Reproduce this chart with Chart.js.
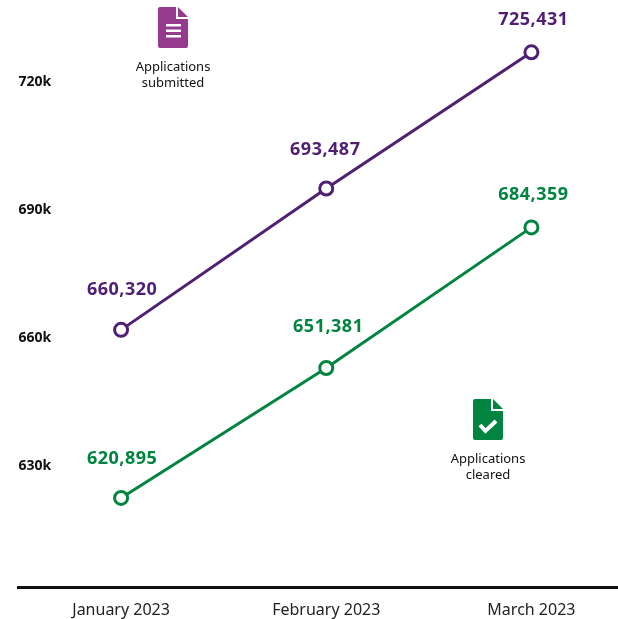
<!DOCTYPE html>
<html>
<head>
<meta charset="utf-8">
<style>
  html, body { margin: 0; padding: 0; background: #fff; overflow: hidden; }
  canvas { display: block; }
</style>
<script src="https://cdn.jsdelivr.net/npm/chart.js@4"></script>
</head>
<body>
<!-- canvas runs past the window on the right: the axis line bleeds off the edge in the original -->
<canvas id="chart" width="634" height="619"></canvas>
<script>
const months = ['January 2023', 'February 2023', 'March 2023'];
const submitted = [660320, 693487, 725431];
const cleared = [620895, 651381, 684359];
const yTicks = [630000, 660000, 690000, 720000];

const PURPLE = '#4f1f72';
const GREEN = '#00843f';
const FONT = '"Noto Sans", sans-serif';

// icon = page with a folded corner
function drawPage(ctx, x, y, w, h, color) {
    const fold = 10;
    ctx.fillStyle = color;
    ctx.beginPath();
    ctx.moveTo(x + 2, y);
    ctx.lineTo(x + w - fold - 2, y);
    ctx.lineTo(x + w - fold - 2, y + fold + 2);
    ctx.lineTo(x + w, y + fold + 2);
    ctx.lineTo(x + w, y + h - 2);
    ctx.quadraticCurveTo(x + w, y + h, x + w - 2, y + h);
    ctx.lineTo(x + 2, y + h);
    ctx.quadraticCurveTo(x, y + h, x, y + h - 2);
    ctx.lineTo(x, y + 2);
    ctx.quadraticCurveTo(x, y, x + 2, y);
    ctx.fill();
    ctx.beginPath();
    ctx.moveTo(x + w - fold, y);
    ctx.lineTo(x + w, y + fold);
    ctx.lineTo(x + w - fold, y + fold);
    ctx.closePath();
    ctx.fill();
}

const annotations = {
    id: 'annotations',
    afterDatasetsDraw(chart) {
        const { ctx, scales } = chart;
        ctx.save();
        ctx.textAlign = 'center';
        ctx.textBaseline = 'middle';

        // value labels above the points
        const labelLift = [[40, 39, 32], [39, 41, 33]];
        const labelShift = [[1, -1, 2], [1, 2, 2]];
        [submitted, cleared].forEach((values, s) => {
            ctx.fillStyle = s === 0 ? PURPLE : GREEN;
            ctx.font = 'bold 18px ' + FONT;
            ctx.letterSpacing = '0.5px';
            values.forEach((v, i) => {
                ctx.fillText(v.toLocaleString('en-US'), scales.x.getPixelForValue(i) + labelShift[s][i],
                    scales.y.getPixelForValue(v) - labelLift[s][i]);
            });
        });
        ctx.letterSpacing = '0px';

        // submitted icon
        drawPage(ctx, 158, 7, 30, 41, '#963a8e');
        ctx.fillStyle = '#fff';
        [24, 29.5, 35].forEach(y => ctx.fillRect(166, y, 15, 2.5));

        // cleared icon
        drawPage(ctx, 473, 399, 30, 41, GREEN);
        ctx.strokeStyle = '#fff';
        ctx.lineWidth = 4;
        ctx.beginPath();
        ctx.moveTo(480, 425);
        ctx.lineTo(485.5, 431);
        ctx.lineTo(496, 421);
        ctx.stroke();

        ctx.fillStyle = '#111';
        ctx.font = '13px ' + FONT;
        ctx.fillText('Applications', 173, 67.5);
        ctx.fillText('submitted', 173, 83.5);
        ctx.fillText('Applications', 488, 459.5);
        ctx.fillText('cleared', 488, 475.5);
        ctx.restore();
    }
};

function lineSet(data, color) {
    return {
        data: data,
        borderColor: color,
        borderWidth: 3,
        pointRadius: 6.5,
        pointHoverRadius: 6.5,
        pointBorderWidth: 3,
        pointBackgroundColor: '#fff',
        pointBorderColor: color,
        tension: 0
    };
}

function noMargins(scale) {
    scale.paddingLeft = scale.paddingRight = scale.paddingTop = scale.paddingBottom = 0;
}

new Chart(document.getElementById('chart').getContext('2d'), {
    type: 'line',
    data: {
        labels: months,
        datasets: [lineSet(submitted, PURPLE), lineSet(cleared, GREEN)]
    },
    plugins: [annotations],
    options: {
        responsive: false,
        animation: false,
        layout: { autoPadding: false, padding: { left: 18.5, right: 0, top: 0, bottom: 0 } },
        plugins: { legend: { display: false }, title: { display: false }, tooltip: { enabled: false } },
        scales: {
            x: {
                offset: true,
                grid: { display: false },
                border: { display: true, color: '#111', width: 3 },
                ticks: { color: '#222', font: { family: FONT, size: 16 }, maxRotation: 0, autoSkip: false, padding: 6 },
                afterFit(scale) { scale.height = 32; noMargins(scale); }
            },
            y: {
                min: 600000,
                max: 737700,
                grid: { display: false },
                border: { display: false },
                afterBuildTicks(scale) { scale.ticks = yTicks.map(v => ({ value: v })); },
                afterFit(scale) { scale.width = 0; noMargins(scale); },
                ticks: {
                    mirror: true,
                    padding: 0,
                    labelOffset: 7,
                    color: '#111',
                    font: { family: FONT, size: 14, weight: 'bold' },
                    callback: v => (v / 1000) + 'k'
                }
            }
        }
    }
});
</script>
</body>
</html>
